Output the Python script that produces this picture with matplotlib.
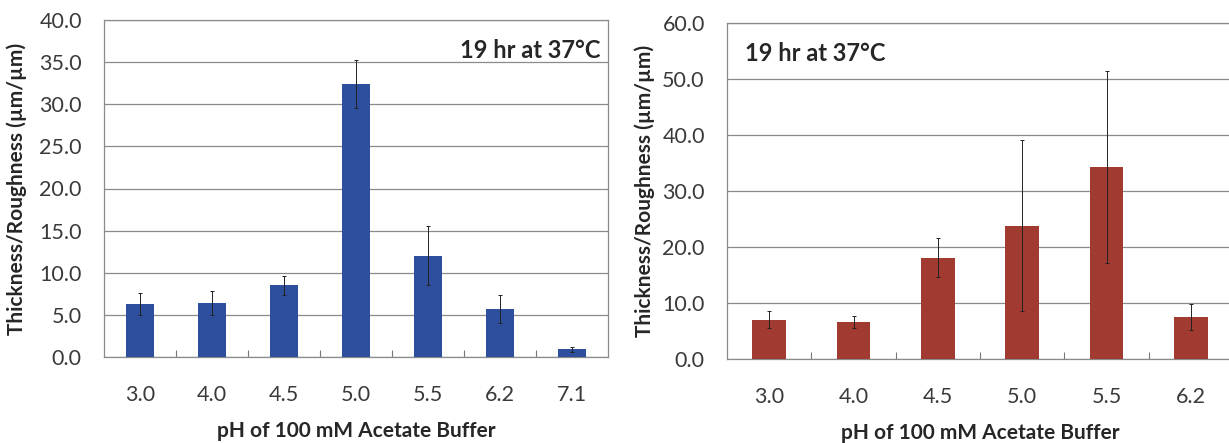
import matplotlib
matplotlib.use("Agg")
import matplotlib.pyplot as plt

# Data
ph_left = ["3.0", "4.0", "4.5", "5.0", "5.5", "6.2", "7.1"]
ratio_left = [6.3, 6.4, 8.5, 32.4, 12.0, 5.7, 0.9]
err_left = [1.3, 1.4, 1.1, 2.9, 3.5, 1.7, 0.25]

ph_right = ["3.0", "4.0", "4.5", "5.0", "5.5", "6.2"]
ratio_right = [7.0, 6.6, 18.1, 23.8, 34.3, 7.5]
err_right = [1.5, 1.1, 3.5, 15.3, 17.2, 2.3]

plt.rcParams["font.family"] = ["Lato", "DejaVu Sans"]

fig = plt.figure(figsize=(12.29, 4.43), dpi=100)
W, H = 1229, 443


def draw(rect, cats, vals, errs, color, ymax, step, note, note_x, note_ha, ylab_x):
    ax = fig.add_axes(rect)
    x = list(range(len(cats)))
    ax.bar(x, vals, width=0.4, color=color, zorder=3,
           yerr=errs, error_kw=dict(ecolor="#222222", elinewidth=0.7, capsize=1.5, capthick=0.7))
    ax.set_xlim(-0.5, len(cats) - 0.5)
    ax.set_ylim(0, ymax)
    ax.set_yticks([i * step for i in range(int(ymax / step) + 1)])
    ax.set_yticklabels([f"{i * step:.1f}" for i in range(int(ymax / step) + 1)])
    ax.set_xticks(x)
    ax.set_xticklabels(cats)
    ax.set_xticks([i + 0.5 for i in range(len(cats) - 1)], minor=True)
    ax.tick_params(axis="x", which="major", length=0, pad=20, labelsize=15.5, labelcolor="#3a3a3a")
    ax.tick_params(axis="x", which="minor", direction="in", length=5, color="#777777", width=0.8)
    ax.tick_params(axis="y", length=0, pad=16, labelsize=15.5, labelcolor="#3a3a3a")
    ax.grid(axis="y", color="#8a8a8a", linewidth=0.9, zorder=0)
    for s in ax.spines.values():
        s.set_color("#8a8a8a")
        s.set_linewidth(0.9)
    ax.set_xlabel("pH of 100 mM Acetate Buffer", fontsize=15, fontweight="bold",
                  color="#262626", va="center")
    ax.xaxis.set_label_coords(0.5, -0.22)
    ax.set_ylabel("Thickness/Roughness (\u00b5m/\u00b5m)", fontsize=15, fontweight="bold",
                  color="#262626", va="center")
    ax.yaxis.set_label_coords(ylab_x, 0.5)
    ax.text(note_x, 0.91, note, transform=ax.transAxes, ha=note_ha, va="center",
            fontsize=17, fontweight="bold", color="#262626")
    return ax


draw([104 / W, 1 - 357 / H, 504 / W, 337 / H], ph_left, ratio_left, err_left,
     "#2d4f9e", 40, 5, "19 hr at 37\u00b0C", 0.985, "right", -0.173)
draw([727 / W, 1 - 359 / H, 506 / W, 336 / H], ph_right, ratio_right, err_right,
     "#a13b32", 60, 10, "19 hr at 37\u00b0C", 0.035, "left", -0.162)

fig.savefig("out.png", dpi=100)
